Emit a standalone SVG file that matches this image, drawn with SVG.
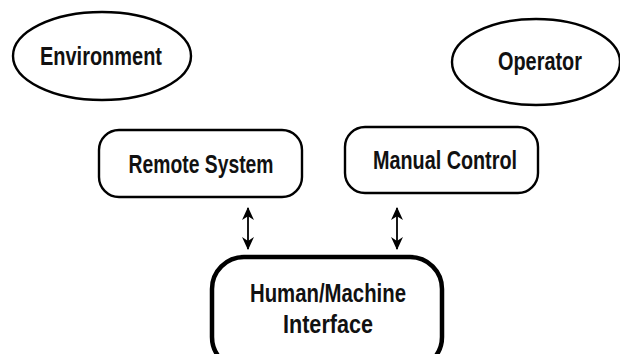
<svg xmlns="http://www.w3.org/2000/svg" width="620" height="354" viewBox="0 0 620 354">
<style>
.shape{fill:#fff;stroke:#000;stroke-width:2.4}
.thick{fill:#fff;stroke:#000;stroke-width:4.5}
.lbl{font-family:"Liberation Sans",Arial,sans-serif;font-weight:bold;font-size:26px;fill:#111;text-anchor:middle}
.conn{stroke:#000;stroke-width:1.8;fill:none}
</style>
<defs>
<marker id="ah" viewBox="0 0 12 12" refX="11" refY="6" markerWidth="13" markerHeight="13" markerUnits="userSpaceOnUse" orient="auto-start-reverse">
<path d="M0,0.5 L12,6 L0,11.5 L3.5,6 Z" fill="#000"/>
</marker>
</defs>
<g id="environment">
<ellipse class="shape" cx="102" cy="56" rx="89" ry="44"/>
<text class="lbl" x="101" y="65" textLength="122" lengthAdjust="spacingAndGlyphs">Environment</text>
</g>
<g id="operator">
<ellipse class="shape" cx="536" cy="62" rx="84" ry="43"/>
<text class="lbl" x="540" y="70" textLength="84" lengthAdjust="spacingAndGlyphs">Operator</text>
</g>
<g id="remote-system">
<rect class="shape" x="99" y="130" width="203" height="67" rx="20"/>
<text class="lbl" x="201" y="173" textLength="145" lengthAdjust="spacingAndGlyphs">Remote System</text>
</g>
<g id="manual-control">
<rect class="shape" x="345" y="127" width="193" height="66" rx="20"/>
<text class="lbl" x="445" y="169" textLength="144" lengthAdjust="spacingAndGlyphs">Manual Control</text>
</g>
<g id="hmi">
<rect class="thick" x="212" y="257" width="230" height="112" rx="32"/>
<text class="lbl" x="328" y="302" textLength="156" lengthAdjust="spacingAndGlyphs">Human/Machine</text>
<text class="lbl" x="328" y="333" textLength="90" lengthAdjust="spacingAndGlyphs">Interface</text>
</g>
<g id="connectors">
<line class="conn" x1="248" y1="208" x2="248" y2="249" marker-start="url(#ah)" marker-end="url(#ah)"/>
<line class="conn" x1="397" y1="208" x2="397" y2="249" marker-start="url(#ah)" marker-end="url(#ah)"/>
</g>
</svg>
